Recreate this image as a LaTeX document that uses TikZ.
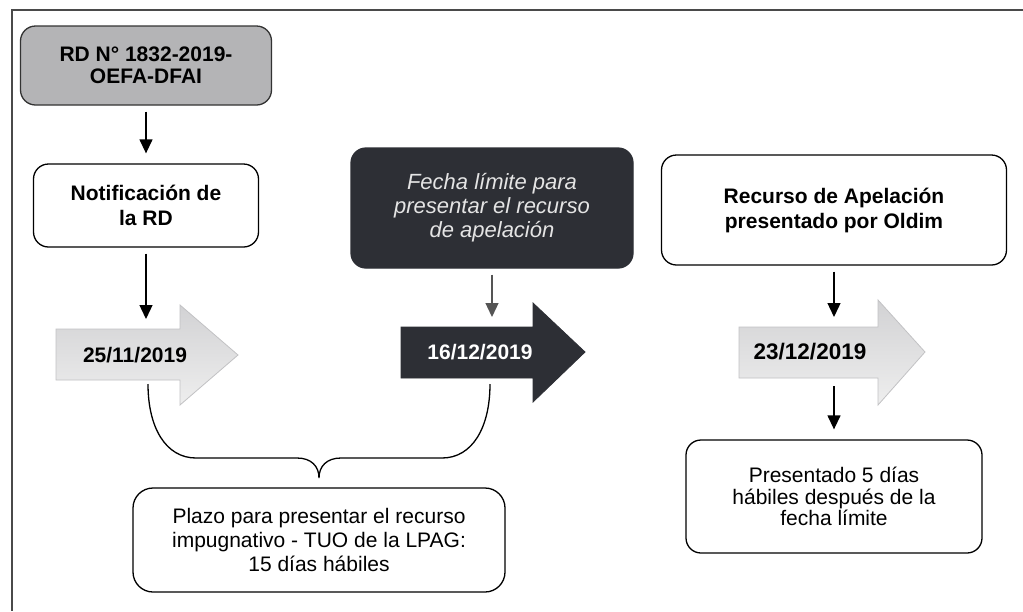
\documentclass[tikz,border=0pt]{standalone}
\usepackage{fontspec}
\setmainfont{Liberation Sans}
\usetikzlibrary{arrows.meta,calc}
\definecolor{framec}{HTML}{4A4A4A}
\definecolor{rdgray}{HTML}{B4B4B6}
\definecolor{darkc}{HTML}{2D2F35}
\definecolor{darktxt}{HTML}{E4E4E4}
\definecolor{lighttop}{HTML}{D2D2D4}
\definecolor{lightbot}{HTML}{EEEEEE}
\definecolor{lightedge}{HTML}{C2C2C4}
\definecolor{grayconn}{HTML}{555555}
\begin{document}
\begin{tikzpicture}[x=1pt,y=-1pt,
  box/.style={draw=black, line width=1.3pt, rounded corners=15pt, inner sep=0pt, align=center, fill=white},
  conn/.style={line width=1.3pt, -{Triangle[width=13pt,length=14pt]}, shorten <=6pt, shorten >=10pt},
  lightarrow/.style={top color=lighttop, bottom color=lightbot, draw=lightedge, line width=0.8pt},
  darkarrow/.style={fill=darkc, draw=darkc, line width=0.8pt},
  datetxt/.style={inner sep=0pt, font=\bfseries\fontsize{21}{24}\selectfont}]
\useasboundingbox (0,0) rectangle (1023,611);
\fill[white] (0,0) rectangle (1023,611);
% frame
\draw[framec, line width=1.5pt] (1023,10) -- (12,10) -- (12,611);

% boxes
\node[box, fill=rdgray, draw=black!80, minimum width=251pt, minimum height=79pt,
      font=\bfseries\fontsize{21}{22.5}\selectfont] (rd) at (146,65.5) {RD N° 1832-2019-\\OEFA-DFAI};
\node[box, minimum width=225pt, minimum height=83pt,
      font=\bfseries\fontsize{21}{25}\selectfont] (notif) at (146,205.5) {Notificación de\\la RD};
\node[box, fill=darkc, draw=darkc, text=darktxt, minimum width=282pt, minimum height=120pt,
      font=\itshape\fontsize{22}{24}\selectfont] (dark) at (492,208) {Fecha límite para\\presentar el recurso\\de apelación};
\node[box, minimum width=345pt, minimum height=110pt,
      font=\bfseries\fontsize{21}{25}\selectfont] (rec) at (834,210) {Recurso de Apelación\\presentado por Oldim};
\node[box, minimum width=296pt, minimum height=113pt,
      font=\fontsize{21}{21.5}\selectfont] (pres) at (834,496.5) {Presentado 5 días\\hábiles después de la\\fecha límite};
\node[box, rounded corners=20pt, minimum width=372pt, minimum height=104pt,
      font=\fontsize{21}{24}\selectfont] (plazo) at (319,540) {Plazo para presentar el recurso\\impugnativo - TUO de la LPAG:\\15 días hábiles};

% block arrows
\draw[lightarrow] (56,329) -- (180,329) -- (180,305) -- (238,355) -- (180,405) -- (180,380) -- (56,380) -- cycle;
\draw[darkarrow] (401,327) -- (533,327) -- (533,303) -- (585,352) -- (533,402) -- (533,378) -- (401,378) -- cycle;
\draw[lightarrow] (739,327) -- (878,327) -- (878,300) -- (925,352) -- (878,405) -- (878,378) -- (739,378) -- cycle;

\node[datetxt] (d1) at (135,355) {25/11/2019};
\node[datetxt, text=white] (d2) at (480,352) {16/12/2019};
\node[datetxt, font=\bfseries\fontsize{22.5}{26}\selectfont] (d3) at (810,352) {23/12/2019};

\coordinate (d1top) at (146,329);
\coordinate (d2top) at (492,327);
\coordinate (d3top) at (834,327);
\coordinate (d3bot) at (834,378);

% connectors
\draw[conn] (rd.south) -- (notif.north);
\draw[conn] (notif.south) -- (d1top);
\draw[conn, grayconn] (dark.south) -- (d2top);
\draw[conn] (rec.south) -- (d3top);
\draw[conn, shorten <=8pt] (d3bot) -- (pres.north);

% brace
\coordinate (bl) at (148,384);
\coordinate (br) at (490,384);
\coordinate (cusp) at (319,478);
\draw[line width=1.3pt] (bl) .. controls (148,428) and (166,458) .. (196,458) -- (297,458)
  .. controls (311,458) and (319,466) .. (cusp)
  .. controls (319,466) and (327,458) .. (341,458) -- (442,458)
  .. controls (472,458) and (490,428) .. (br);
\end{tikzpicture}
\end{document}
